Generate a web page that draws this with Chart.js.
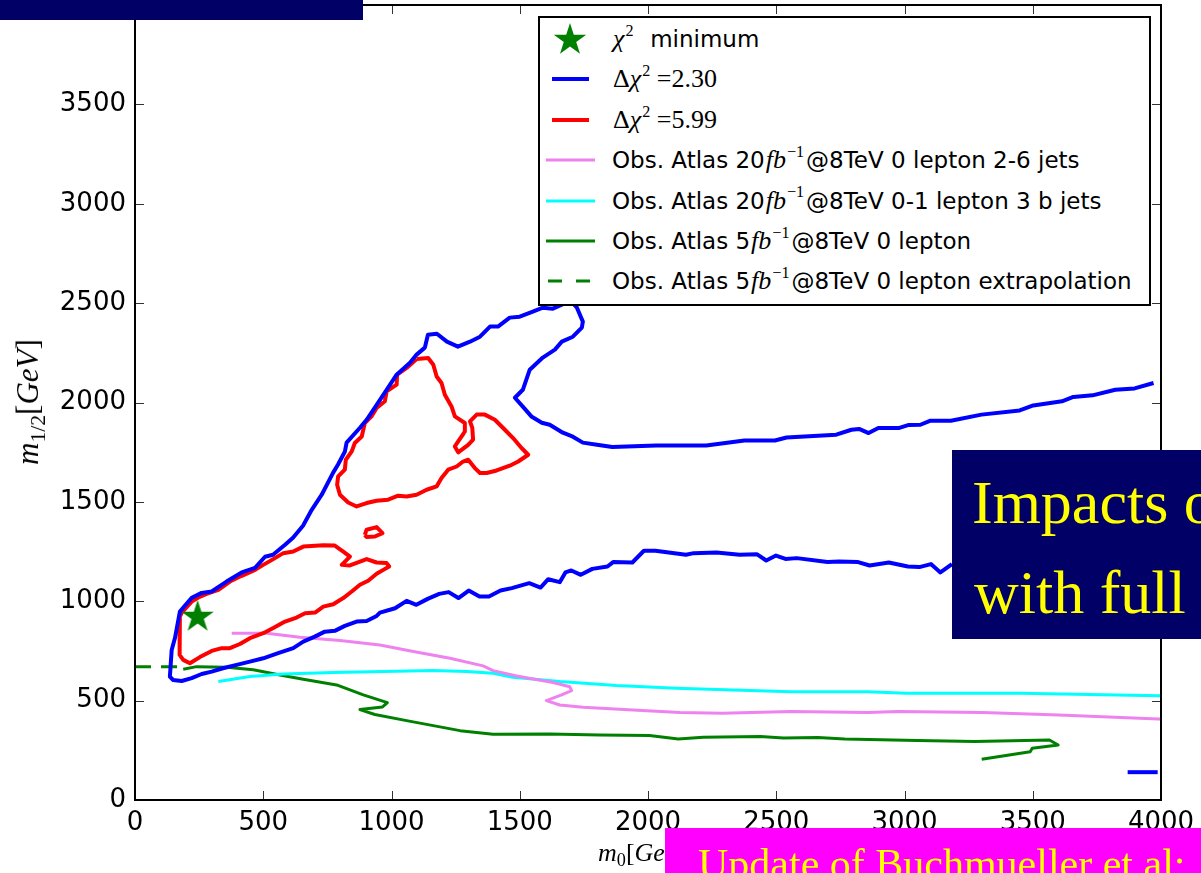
<!DOCTYPE html>
<html lang="en">
<head>
<meta charset="UTF-8">
<title>m0 - m1/2 plane, chi2 contours and ATLAS limits</title>
<script src="https://cdn.jsdelivr.net/npm/chart.js"></script>
<style>
  body { margin: 0; background: #fff; overflow: hidden; }
  #wrap { position: relative; width: 1201px; height: 873px; }
  #plot { position: absolute; left: 0; top: 0; }
  .box { position: absolute; overflow: hidden; white-space: nowrap; }
  .navy { background: #000066; }
  .magenta { background: #ff00ff; }
  .slide { color: #ffff00; font-family: "Liberation Serif", serif; }
  #legend { position: absolute; left: 538px; top: 16px; width: 613px; height: 290px;
            box-sizing: border-box; border: 2px solid #000; background: #fff; }
  .row { position: absolute; left: 0; width: 100%; height: 40px; }
  .row svg { position: absolute; left: 0; top: 0; }
  .row .t { position: absolute; left: 72px; top: 0; line-height: 40px; white-space: nowrap;
            font-family: "DejaVu Sans", sans-serif; font-size: 23px; color: #000; }
  .m { font-family: "Liberation Serif", serif; font-size: 26px; padding: 0 2px 0 1px; }
  .m i, .ax i { font-style: italic; }
  sup { font-size: 0.62em; vertical-align: 0.7em; line-height: 0; margin-left: 1px; }
  sub { font-size: 0.7em; vertical-align: -0.3em; line-height: 0; }
  .ax { position: absolute; font-family: "Liberation Serif", serif; color: #000;
        white-space: nowrap; line-height: 30px; }
</style>
</head>
<body>
<div id="wrap">
  <canvas id="plot" width="1201" height="873"></canvas>
  <div class="ax" id="ytitle" style="left:28px; top:402px; font-size:31px; transform: translate(-50%,-50%) rotate(-90deg);"><i>m</i><sub>1/2</sub>[<i>GeV</i>]</div>
  <div class="ax" id="xtitle" style="left:598px; top:838px; font-size:26px;"><i>m</i><sub>0</sub>[<i>GeV</i>]</div>
  <div id="legend"></div>
  <div class="box navy" style="left:0; top:0; width:363px; height:20px;"></div>
  <div class="box navy slide" style="left:952px; top:450px; width:249px; height:189px; font-size:62px; line-height:90px; padding-top:7px; box-sizing:border-box;">
    <div style="padding-left:20px;">Impacts of</div>
    <div style="padding-left:22px;">with full</div>
  </div>
  <div class="box magenta slide" style="left:665px; top:828px; width:536px; height:45px; font-size:42px; line-height:50px; padding:11px 0 0 33px; box-sizing:border-box;">Update of Buchmueller et al:</div>
</div>
<script>
    // axis ticks
    const xTicks = [0, 500, 1000, 1500, 2000, 2500, 3000, 3500, 4000];
    const yTicks = [0, 500, 1000, 1500, 2000, 2500, 3000, 3500, 4000];

    // best fit point
    const chi2Min = [[244, 921]];

    // delta chi2 = 2.30 contour (main piece + small piece bottom right)
    const dchi2_230 = [
        [3185,1187],[3140,1145],[3103,1187],[3058,1172],[3013,1175],[2939,1195],[2864,1180],[2819,1197],
        [2745,1200],[2700,1197],[2580,1217],[2536,1213],[2499,1230],[2461,1205],[2424,1237],[2357,1234],
        [2267,1245],[2178,1242],[2148,1234],[2029,1254],[1984,1254],[1939,1195],[1864,1197],[1842,1175],
        [1783,1163],[1738,1133],[1701,1155],[1678,1145],[1656,1096],[1611,1111],[1581,1069],[1537,1091],
        [1469,1066],[1425,1054],[1380,1024],[1343,1024],[1301,1054],[1261,1016],[1223,1046],[1186,1037],
        [1141,1012],[1097,982],[1059,1002],[1014,965],[955,943],[942,926],[903,901],[864,898],[818,876],
        [779,851],[740,847],[701,822],[656,797],[617,764],[558,739],[500,713],[448,696],[396,680],[343,663],
        [299,646],[260,634],[221,613],[182,599],[148,604],[136,621],[143,755],[156,816],[175,948],[221,1017],
        [260,1042],[299,1049],[357,1099],[416,1145],[468,1168],[507,1224],[538,1234],[585,1284],[616,1319],
        [655,1380],[689,1460],[728,1536],[772,1646],[791,1687],[818,1752],[825,1798],[877,1873],[903,1913],
        [935,1974],[981,2064],[1020,2140],[1072,2200],[1098,2241],[1130,2276],[1142,2341],[1177,2346],
        [1216,2306],[1259,2281],[1306,2306],[1345,2331],[1384,2382],[1415,2382],[1461,2427],[1500,2432],
        [1551,2457],[1590,2477],[1629,2472],[1664,2492],[1695,2517],[1723,2477],[1746,2407],[1742,2377],
        [1707,2331],[1664,2306],[1637,2266],[1590,2226],[1539,2165],[1512,2064],[1481,2024],[1512,1979],
        [1547,1928],[1586,1898],[1617,1888],[1668,1848],[1707,1828],[1746,1798],[1801,1787],[1861,1776],
        [2032,1784],[2227,1784],[2376,1809],[2495,1809],[2540,1824],[2734,1838],[2793,1863],[2823,1867],
        [2860,1846],[2898,1872],[2980,1872],[3017,1887],[3062,1888],[3099,1908],[3181,1908],[3300,1939],
        [3449,1960],[3502,1985],[3614,2006],[3658,2028],[3733,2036],[3822,2064],[3897,2071],[3971,2098]
    ];
    const dchi2_230_corner = [[3870,140],[3987,140]];

    // delta chi2 = 5.99 contour, three closed pieces
    const dchi2_599_low = [
        [175,923],[173,822],[175,730],[188,705],[214,688],[253,719],[299,750],[338,764],[370,764],[409,785],
        [448,814],[500,839],[539,865],[585,898],[630,918],[663,940],[702,943],[734,973],[773,985],[812,1016],
        [845,1049],[877,1083],[909,1103],[942,1138],[968,1158],[991,1175],[981,1192],[942,1195],[903,1212],
        [838,1180],[806,1183],[838,1225],[812,1250],[779,1280],[734,1282],[656,1275],[617,1250],[578,1242],
        [539,1212],[500,1183],[468,1158],[416,1128],[370,1099],[325,1057],[279,1037],[247,1019],[221,998],
        [182,943],[175,923]
    ];
    const dchi2_599_small = [[896,1334],[903,1360],[942,1373],[965,1343],[935,1326],[903,1323],[896,1334]];
    const dchi2_599_high = [
        [1098,2219],[1143,2224],[1163,2190],[1176,2131],[1195,2098],[1208,2039],[1234,1980],[1247,1930],
        [1286,1897],[1286,1854],[1260,1804],[1247,1779],[1260,1749],[1299,1787],[1318,1813],[1315,1872],
        [1306,1905],[1332,1939],[1364,1939],[1403,1913],[1442,1863],[1474,1821],[1507,1771],[1533,1737],
        [1494,1703],[1461,1682],[1410,1658],[1371,1645],[1345,1645],[1325,1670],[1299,1712],[1279,1703],
        [1254,1678],[1221,1662],[1195,1620],[1176,1578],[1137,1561],[1098,1536],[1059,1527],[1026,1531],
        [987,1511],[942,1506],[903,1494],[864,1477],[831,1497],[799,1536],[788,1586],[792,1628],[818,1662],
        [822,1712],[845,1754],[857,1796],[884,1829],[896,1897],[922,1930],[942,1972],[974,2006],[981,2056],
        [1020,2090],[1022,2140],[1059,2174],[1098,2219]
    ];

    // ATLAS observed limits
    const atlas20_0l_26j = [
        [377,839],[513,839],[643,819],[799,802],[955,780],[1085,747],[1228,713],[1357,675],[1396,651],
        [1488,624],[1630,591],[1695,570],[1702,550],[1663,529],[1604,500],[1656,478],[1747,467],[1942,453],
        [2124,440],[2290,437],[2558,445],[2856,440],[2976,445],[3304,440],[3602,428],[3990,408],[4000,407]
    ];
    const atlas20_01l_3b = [
        [325,596],[448,621],[578,634],[773,641],[968,646],[1163,651],[1293,646],[1396,638],[1474,618],
        [1656,596],[1877,576],[2110,562],[2558,545],[2856,545],[3006,537],[3453,537],[3990,525],[4000,525]
    ];
    const atlas5_0l = [
        [188,658],[240,671],[357,668],[461,655],[565,629],[656,608],[786,579],[890,529],[984,490],[965,468],
        [877,455],[935,430],[1064,398],[1267,349],[1396,331],[1617,332],[1812,327],[2006,324],[2118,307],
        [2215,316],[2438,319],[2528,312],[2662,314],[2767,307],[3050,299],[3274,294],[3565,302],[3599,277],
        [3498,260],[3490,243],[3301,205]
    ];
    const atlas5_0l_extrap = [[0,670],[170,670]];

    const legendLabels = [
        '<span class="m"><i>χ</i><sup>2</sup></span>&nbsp; minimum',
        '<span class="m">Δ<i>χ</i><sup>2</sup> =2.30</span>',
        '<span class="m">Δ<i>χ</i><sup>2</sup> =5.99</span>',
        'Obs. Atlas 20<span class="m"><i>fb</i><sup>−1</sup></span>@8TeV 0 lepton 2-6 jets',
        'Obs. Atlas 20<span class="m"><i>fb</i><sup>−1</sup></span>@8TeV 0-1 lepton 3 b jets',
        'Obs. Atlas 5<span class="m"><i>fb</i><sup>−1</sup></span>@8TeV 0 lepton',
        'Obs. Atlas 5<span class="m"><i>fb</i><sup>−1</sup></span>@8TeV 0 lepton extrapolation'
    ];

    const toXY = arr => arr.map(p => ({x: p[0], y: p[1]}));

    function starPoints(cx, cy, R) {
        let r = R * 0.382;
        let pts = [];
        for (let i = 0; i < 10; i++) {
            let a = -Math.PI / 2 + i * Math.PI / 5;
            let rr = i % 2 == 0 ? R : r;
            pts.push([cx + rr * Math.cos(a), cy + rr * Math.sin(a)]);
        }
        return pts;
    }

    function makeStar(R, color) {
        let c = document.createElement('canvas');
        c.width = c.height = 2 * R + 4;
        let ctx = c.getContext('2d');
        let pts = starPoints(R + 2, R + 2, R);
        ctx.beginPath();
        pts.forEach((p, i) => i ? ctx.lineTo(p[0], p[1]) : ctx.moveTo(p[0], p[1]));
        ctx.closePath();
        ctx.fillStyle = color;
        ctx.fill();
        return c;
    }

    function lineSet(data, color, width, dash) {
        return {
            data: toXY(data),
            showLine: true,
            borderColor: color,
            borderWidth: width,
            borderDash: dash || [],
            borderJoinStyle: 'round',
            pointRadius: 0,
            fill: false,
            tension: 0
        };
    }

    const green = '#008000';
    const datasets = [
        {data: toXY(chi2Min), pointStyle: makeStar(17, green), pointRadius: 17, showLine: false},
        lineSet(dchi2_230, '#0000ff', 4),
        lineSet(dchi2_230_corner, '#0000ff', 4),
        lineSet(dchi2_599_low, '#ff0000', 4),
        lineSet(dchi2_599_small, '#ff0000', 4),
        lineSet(dchi2_599_high, '#ff0000', 4),
        lineSet(atlas20_0l_26j, '#ee82ee', 3),
        lineSet(atlas20_01l_3b, '#00ffff', 3),
        lineSet(atlas5_0l, green, 3),
        lineSet(atlas5_0l_extrap, green, 3, [16, 10])
    ];

    // frame and inward ticks on all four sides, like the original
    const frameTicks = {
        id: 'frameTicks',
        afterDatasetsDraw(chart) {
            let ctx = chart.ctx, a = chart.chartArea, sx = chart.scales.x, sy = chart.scales.y;
            ctx.save();
            ctx.strokeStyle = '#333';
            ctx.lineWidth = 1;
            ctx.beginPath();
            xTicks.forEach(v => {
                let px = Math.round(sx.getPixelForValue(v)) + 0.5;
                ctx.moveTo(px, a.bottom); ctx.lineTo(px, a.bottom - 9);
                ctx.moveTo(px, a.top); ctx.lineTo(px, a.top + 9);
            });
            yTicks.forEach(v => {
                let py = Math.round(sy.getPixelForValue(v)) + 0.5;
                ctx.moveTo(a.left, py); ctx.lineTo(a.left + 9, py);
                ctx.moveTo(a.right, py); ctx.lineTo(a.right - 9, py);
            });
            ctx.stroke();
            ctx.strokeStyle = '#000';
            ctx.lineWidth = 2;
            ctx.strokeRect(a.left, a.top, a.right - a.left, a.bottom - a.top);
            ctx.restore();
        }
    };

    const plain = v => String(v);
    const noPad = s => { s.paddingTop = 0; s.paddingBottom = 0; s.paddingLeft = 0; s.paddingRight = 0; };

    new Chart(document.getElementById('plot'), {
        type: 'scatter',
        data: {datasets: datasets},
        options: {
            responsive: false,
            animation: false,
            layout: {autoPadding: false, padding: {top: 5, right: 40, left: 0, bottom: 0}},
            plugins: {legend: {display: false}, tooltip: {enabled: false}},
            scales: {
                x: {
                    type: 'linear', min: 0, max: 4000,
                    grid: {display: false}, border: {display: false},
                    ticks: {font: {family: 'DejaVu Sans', size: 26}, color: '#000', padding: 0,
                            maxRotation: 0, autoSkip: false, callback: plain},
                    afterBuildTicks: s => { s.ticks = xTicks.map(v => ({value: v})); },
                    afterFit: s => { s.height = 73; noPad(s); }
                },
                y: {
                    type: 'linear', min: 0, max: 4000,
                    grid: {display: false}, border: {display: false},
                    ticks: {font: {family: 'DejaVu Sans', size: 26, lineHeight: 0.4}, color: '#000', padding: 1,
                            autoSkip: false, callback: plain},
                    afterBuildTicks: s => { s.ticks = yTicks.map(v => ({value: v})); },
                    afterFit: s => { s.width = 135; noPad(s); }
                }
            }
        },
        plugins: [frameTicks]
    });

    // legend, drawn as html on top of the plot
    let legend = document.getElementById('legend');
    let handles = [
        {kind: 'star', color: green},
        {kind: 'line', color: '#0000ff', w: 4, x1: 12, x2: 49},
        {kind: 'line', color: '#ff0000', w: 4, x1: 12, x2: 49},
        {kind: 'line', color: '#ee82ee', w: 3, x1: 6, x2: 55},
        {kind: 'line', color: '#00ffff', w: 3, x1: 6, x2: 55},
        {kind: 'line', color: green, w: 3, x1: 6, x2: 55},
        {kind: 'line', color: green, w: 3, x1: 8, x2: 52, dash: '14 14'}
    ];
    legendLabels.forEach((lab, i) => {
        let row = document.createElement('div');
        row.className = 'row';
        row.style.top = (1 + i * 40.4) + 'px';
        let h = handles[i], svg;
        if (h.kind == 'star') {
            let pts = starPoints(30, 21, 17).map(p => p[0].toFixed(1) + ',' + p[1].toFixed(1)).join(' ');
            svg = '<svg width="64" height="40"><polygon points="' + pts + '" fill="' + h.color + '"/></svg>';
        } else {
            svg = '<svg width="64" height="40"><line x1="' + h.x1 + '" y1="20" x2="' + h.x2 + '" y2="20" stroke="' +
                h.color + '" stroke-width="' + h.w + '"' + (h.dash ? ' stroke-dasharray="' + h.dash + '"' : '') + '/></svg>';
        }
        row.innerHTML = svg + '<span class="t">' + lab + '</span>';
        legend.appendChild(row);
    });
</script>
</body>
</html>
